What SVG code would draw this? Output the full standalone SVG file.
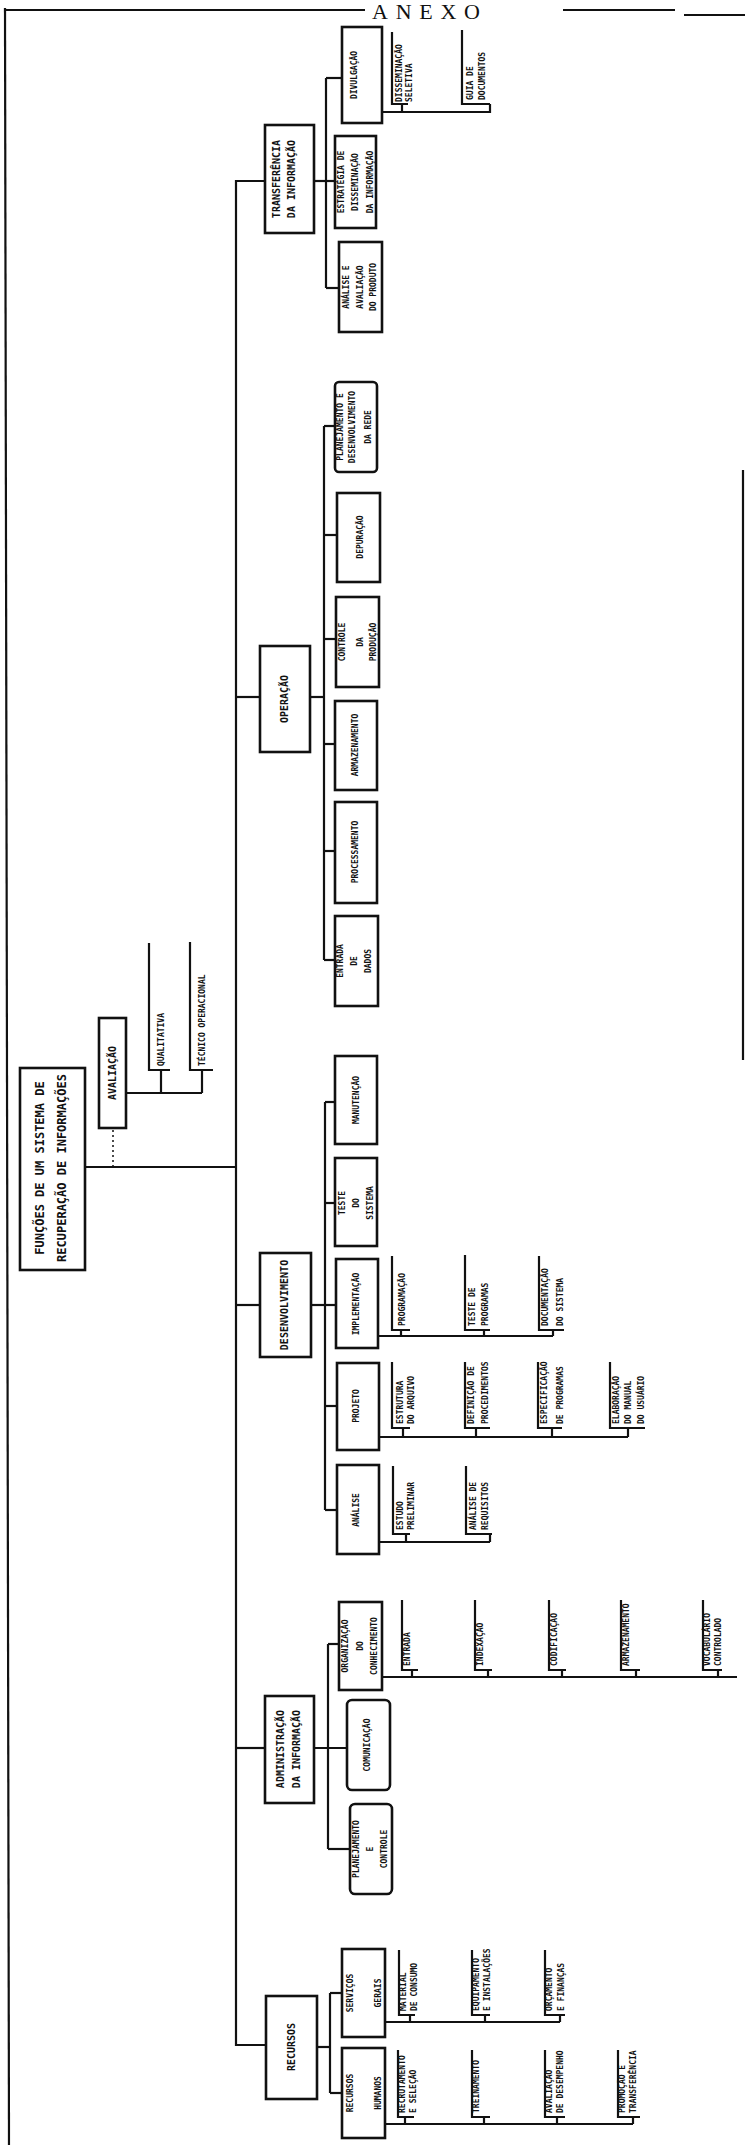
<svg xmlns="http://www.w3.org/2000/svg" width="745" height="2145" viewBox="0 0 745 2145">
<style>
.bx{fill:none;stroke:#111;stroke-width:2.6}
.ln{fill:none;stroke:#111;stroke-width:2.2}
.dl{fill:none;stroke:#111;stroke-width:1.5;stroke-dasharray:2 3}
.t{font-family:"DejaVu Sans Mono",monospace;font-weight:bold;font-size:8px;fill:#111;text-anchor:middle}
.ts{font-family:"DejaVu Sans Mono",monospace;font-weight:bold;font-size:8px;fill:#111;text-anchor:start}
.t1{font-family:"DejaVu Sans Mono",monospace;font-weight:bold;font-size:10px;fill:#111;text-anchor:middle}
.t0{font-family:"DejaVu Sans Mono",monospace;font-weight:bold;font-size:12px;fill:#111;text-anchor:middle}
.hd{font-family:"Liberation Serif",serif;font-size:22px;fill:#111}
</style>
<rect width="745" height="2145" fill="#fff"/>
<g id="frame">
<line class="ln" x1="5" y1="8" x2="9" y2="2145"/>
<line class="ln" x1="5" y1="10" x2="365" y2="10"/>
<line class="ln" x1="563" y1="10" x2="675" y2="10"/>
<line class="ln" x1="684" y1="15" x2="745" y2="15"/>
<line class="ln" x1="743" y1="470" x2="743" y2="1060"/>
<text class="hd" x="372" y="19" textLength="108" lengthAdjust="spacing">ANEXO</text>
</g>
<g id="connectors">
<polyline class="ln" points="265,181 236,181 236,2045 266,2045"/>
<line class="ln" x1="85" y1="1167" x2="236" y2="1167"/>
<line class="ln" x1="236" y1="697" x2="260" y2="697"/>
<line class="ln" x1="236" y1="1305" x2="260" y2="1305"/>
<line class="ln" x1="236" y1="1748" x2="265" y2="1748"/>
<line class="dl" x1="113" y1="1130" x2="113" y2="1166"/>
<line class="ln" x1="126" y1="1093" x2="202" y2="1093"/>
<polyline class="ln" points="149,943 149,1070 170,1070"/>
<polyline class="ln" points="190,942 190,1070 213,1070"/>
<line class="ln" x1="161" y1="1070" x2="161" y2="1093"/>
<line class="ln" x1="202" y1="1070" x2="202" y2="1093"/>
<line class="ln" x1="314" y1="181" x2="335" y2="181"/>
<line class="ln" x1="326" y1="78" x2="326" y2="288"/>
<line class="ln" x1="326" y1="78" x2="342" y2="78"/>
<line class="ln" x1="326" y1="288" x2="339" y2="288"/>
<polyline class="ln" points="392,32 392,104 408,104"/>
<polyline class="ln" points="462,30 462,104 490,104"/>
<polyline class="ln" points="382,112 490,112 490,104"/>
<line class="ln" x1="402" y1="104" x2="402" y2="112"/>
<line class="ln" x1="310" y1="697" x2="324" y2="697"/>
<line class="ln" x1="324" y1="426" x2="324" y2="960"/>
<line class="ln" x1="324" y1="426" x2="335" y2="426"/>
<line class="ln" x1="324" y1="535" x2="337" y2="535"/>
<line class="ln" x1="324" y1="639" x2="336" y2="639"/>
<line class="ln" x1="324" y1="744" x2="335" y2="744"/>
<line class="ln" x1="324" y1="851" x2="335" y2="851"/>
<line class="ln" x1="324" y1="960" x2="335" y2="960"/>
<line class="ln" x1="311" y1="1305" x2="325" y2="1305"/>
<line class="ln" x1="325" y1="1102" x2="325" y2="1510"/>
<line class="ln" x1="325" y1="1102" x2="335" y2="1102"/>
<line class="ln" x1="325" y1="1203" x2="335" y2="1203"/>
<line class="ln" x1="325" y1="1305" x2="336" y2="1305"/>
<line class="ln" x1="325" y1="1406" x2="337" y2="1406"/>
<line class="ln" x1="325" y1="1510" x2="337" y2="1510"/>
<polyline class="ln" points="392,1256 392,1330 410,1330"/>
<polyline class="ln" points="465,1255 465,1330 490,1330"/>
<polyline class="ln" points="539,1256 539,1330 564,1330"/>
<line class="ln" x1="378" y1="1336" x2="553" y2="1336"/>
<line class="ln" x1="401" y1="1330" x2="401" y2="1336"/>
<line class="ln" x1="484" y1="1330" x2="484" y2="1336"/>
<line class="ln" x1="553" y1="1330" x2="553" y2="1336"/>
<polyline class="ln" points="392,1362 392,1428 410,1428"/>
<polyline class="ln" points="465,1362 465,1428 490,1428"/>
<polyline class="ln" points="538,1362 538,1428 562,1428"/>
<polyline class="ln" points="610,1362 610,1428 645,1428"/>
<line class="ln" x1="379" y1="1437" x2="628" y2="1437"/>
<line class="ln" x1="403" y1="1428" x2="403" y2="1437"/>
<line class="ln" x1="476" y1="1428" x2="476" y2="1437"/>
<line class="ln" x1="552" y1="1428" x2="552" y2="1437"/>
<line class="ln" x1="628" y1="1428" x2="628" y2="1437"/>
<polyline class="ln" points="393,1466 393,1534 410,1534"/>
<polyline class="ln" points="466,1466 466,1534 492,1534"/>
<line class="ln" x1="379" y1="1542" x2="490" y2="1542"/>
<line class="ln" x1="406" y1="1534" x2="406" y2="1542"/>
<line class="ln" x1="490" y1="1534" x2="490" y2="1542"/>
<line class="ln" x1="314" y1="1748" x2="347" y2="1748"/>
<line class="ln" x1="328" y1="1644" x2="328" y2="1849"/>
<line class="ln" x1="328" y1="1644" x2="339" y2="1644"/>
<line class="ln" x1="328" y1="1849" x2="350" y2="1849"/>
<polyline class="ln" points="402,1600 402,1670 418,1670"/>
<polyline class="ln" points="475,1600 475,1670 492,1670"/>
<polyline class="ln" points="549,1600 549,1670 566,1670"/>
<polyline class="ln" points="621,1600 621,1670 640,1670"/>
<polyline class="ln" points="703,1600 703,1670 722,1670"/>
<line class="ln" x1="382" y1="1677" x2="737" y2="1677"/>
<line class="ln" x1="412" y1="1670" x2="412" y2="1677"/>
<line class="ln" x1="488" y1="1670" x2="488" y2="1677"/>
<line class="ln" x1="562" y1="1670" x2="562" y2="1677"/>
<line class="ln" x1="636" y1="1670" x2="636" y2="1677"/>
<line class="ln" x1="718" y1="1670" x2="718" y2="1677"/>
<line class="ln" x1="317" y1="2047" x2="330" y2="2047"/>
<line class="ln" x1="330" y1="1993" x2="330" y2="2093"/>
<line class="ln" x1="330" y1="1993" x2="342" y2="1993"/>
<line class="ln" x1="330" y1="2093" x2="342" y2="2093"/>
<polyline class="ln" points="399,1950 399,2015 415,2015"/>
<polyline class="ln" points="472,1950 472,2015 490,2015"/>
<polyline class="ln" points="545,1950 545,2015 565,2015"/>
<line class="ln" x1="385" y1="2022" x2="560" y2="2022"/>
<line class="ln" x1="410" y1="2015" x2="410" y2="2022"/>
<line class="ln" x1="485" y1="2015" x2="485" y2="2022"/>
<line class="ln" x1="560" y1="2015" x2="560" y2="2022"/>
<polyline class="ln" points="398,2050 398,2117 414,2117"/>
<polyline class="ln" points="472,2050 472,2117 490,2117"/>
<polyline class="ln" points="545,2050 545,2117 565,2117"/>
<polyline class="ln" points="618,2050 618,2117 640,2117"/>
<line class="ln" x1="385" y1="2124" x2="633" y2="2124"/>
<line class="ln" x1="405" y1="2117" x2="405" y2="2124"/>
<line class="ln" x1="484" y1="2117" x2="484" y2="2124"/>
<line class="ln" x1="557" y1="2117" x2="557" y2="2124"/>
<line class="ln" x1="633" y1="2117" x2="633" y2="2124"/>
</g>

<g id="root"><rect class="bx" x="20" y="1068" width="65" height="202"/>
<text class="t0" transform="translate(44,1168) rotate(-90)">FUNÇÕES DE UM SISTEMA DE</text>
<text class="t0" transform="translate(66,1168) rotate(-90)">RECUPERAÇÃO DE INFORMAÇÕES</text></g>

<g id="avaliacao"><rect class="bx" x="99" y="1018" width="27" height="110"/>
<text class="t1" transform="translate(116,1073) rotate(-90)">AVALIAÇÃO</text></g>
<g id="qualitativa"><text class="ts" transform="translate(164,1066) rotate(-90)">QUALITATIVA</text></g>
<g id="tecnico"><text class="ts" transform="translate(205,1066) rotate(-90)">TÉCNICO OPERACIONAL</text></g>

<g id="transferencia"><rect class="bx" x="265" y="125" width="49" height="108"/>
<text class="t1" transform="translate(280,179) rotate(-90)">TRANSFERÊNCIA</text>
<text class="t1" transform="translate(295,179) rotate(-90)">DA INFORMAÇÃO</text></g>
<g id="divulgacao"><rect class="bx" x="342" y="27" width="40" height="96"/>
<text class="t" transform="translate(357,75) rotate(-90)">DIVULGAÇÃO</text></g>
<g id="dsi"><text class="ts" transform="translate(402,102) rotate(-90)">DISSEMINAÇÃO</text>
<text class="ts" transform="translate(412,102) rotate(-90)">SELETIVA</text></g>
<g id="catalogo"><text class="ts" transform="translate(473,100) rotate(-90)">GUIA DE</text>
<text class="ts" transform="translate(485,100) rotate(-90)">DOCUMENTOS</text></g>
<g id="estrategia"><rect class="bx" x="335" y="136" width="41" height="92"/>
<text class="t" transform="translate(344,182) rotate(-90)">ESTRATÉGIA DE</text>
<text class="t" transform="translate(358,182) rotate(-90)">DISSEMINAÇÃO</text>
<text class="t" transform="translate(373,182) rotate(-90)">DA INFORMAÇÃO</text></g>
<g id="analiseproduto"><rect class="bx" x="339" y="242" width="43" height="90"/>
<text class="t" transform="translate(349,287) rotate(-90)">ANÁLISE E</text>
<text class="t" transform="translate(363,287) rotate(-90)">AVALIAÇÃO</text>
<text class="t" transform="translate(376,287) rotate(-90)">DO PRODUTO</text></g>

<g id="operacao"><rect class="bx" x="260" y="646" width="50" height="106"/>
<text class="t1" transform="translate(288,699) rotate(-90)">OPERAÇÃO</text></g>
<g id="planejrede"><rect class="bx" x="335" y="382" width="42" height="90" rx="4"/>
<text class="t" transform="translate(343,427) rotate(-90)">PLANEJAMENTO E</text>
<text class="t" transform="translate(355,427) rotate(-90)">DESENVOLVIMENTO</text>
<text class="t" transform="translate(371,427) rotate(-90)">DA REDE</text></g>
<g id="depuracao"><rect class="bx" x="337" y="493" width="43" height="89"/>
<text class="t" transform="translate(363,537) rotate(-90)">DEPURAÇÃO</text></g>
<g id="controle"><rect class="bx" x="336" y="597" width="43" height="90"/>
<text class="t" transform="translate(345,642) rotate(-90)">CONTROLE</text>
<text class="t" transform="translate(363,642) rotate(-90)">DA</text>
<text class="t" transform="translate(376,642) rotate(-90)">PRODUÇÃO</text></g>
<g id="armazenamento"><rect class="bx" x="335" y="701" width="42" height="89"/>
<text class="t" transform="translate(358,745) rotate(-90)">ARMAZENAMENTO</text></g>
<g id="processamento"><rect class="bx" x="335" y="802" width="42" height="101"/>
<text class="t" transform="translate(358,852) rotate(-90)">PROCESSAMENTO</text></g>
<g id="entrada"><rect class="bx" x="335" y="916" width="43" height="90"/>
<text class="t" transform="translate(343,961) rotate(-90)">ENTRADA</text>
<text class="t" transform="translate(357,961) rotate(-90)">DE</text>
<text class="t" transform="translate(371,961) rotate(-90)">DADOS</text></g>

<g id="desenvolvimento"><rect class="bx" x="260" y="1253" width="51" height="104"/>
<text class="t1" transform="translate(288,1305) rotate(-90)">DESENVOLVIMENTO</text></g>
<g id="manutencao"><rect class="bx" x="335" y="1056" width="42" height="88"/>
<text class="t" transform="translate(359,1100) rotate(-90)">MANUTENÇÃO</text></g>
<g id="teste"><rect class="bx" x="335" y="1158" width="42" height="88"/>
<text class="t" transform="translate(345,1203) rotate(-90)">TESTE</text>
<text class="t" transform="translate(359,1203) rotate(-90)">DO</text>
<text class="t" transform="translate(373,1203) rotate(-90)">SISTEMA</text></g>
<g id="implementacao"><rect class="bx" x="336" y="1259" width="42" height="89"/>
<text class="t" transform="translate(359,1304) rotate(-90)">IMPLEMENTAÇÃO</text></g>
<g id="programacao"><text class="ts" transform="translate(405,1326) rotate(-90)">PROGRAMAÇÃO</text></g>
<g id="testeprog"><text class="ts" transform="translate(475,1326) rotate(-90)">TESTE DE</text>
<text class="ts" transform="translate(488,1326) rotate(-90)">PROGRAMAS</text></g>
<g id="docsis"><text class="ts" transform="translate(548,1326) rotate(-90)">DOCUMENTAÇÃO</text>
<text class="ts" transform="translate(563,1326) rotate(-90)">DO SISTEMA</text></g>
<g id="projeto"><rect class="bx" x="337" y="1363" width="42" height="87"/>
<text class="t" transform="translate(359,1406) rotate(-90)">PROJETO</text></g>
<g id="estrutura"><text class="ts" transform="translate(403,1424) rotate(-90)">ESTRUTURA</text>
<text class="ts" transform="translate(414,1424) rotate(-90)">DO ARQUIVO</text></g>
<g id="definicao"><text class="ts" transform="translate(474,1424) rotate(-90)">DEFINIÇÃO DE</text>
<text class="ts" transform="translate(488,1424) rotate(-90)">PROCEDIMENTOS</text></g>
<g id="especificacao"><text class="ts" transform="translate(547,1424) rotate(-90)">ESPECIFICAÇÃO</text>
<text class="ts" transform="translate(563,1424) rotate(-90)">DE PROGRAMAS</text></g>
<g id="manual"><text class="ts" transform="translate(619,1424) rotate(-90)">ELABORAÇÃO</text>
<text class="ts" transform="translate(631,1424) rotate(-90)">DO MANUAL</text>
<text class="ts" transform="translate(644,1424) rotate(-90)">DO USUÁRIO</text></g>
<g id="analise"><rect class="bx" x="337" y="1465" width="42" height="89"/>
<text class="t" transform="translate(359,1510) rotate(-90)">ANÁLISE</text></g>
<g id="estudo"><text class="ts" transform="translate(403,1530) rotate(-90)">ESTUDO</text>
<text class="ts" transform="translate(414,1530) rotate(-90)">PRELIMINAR</text></g>
<g id="analisereq"><text class="ts" transform="translate(476,1530) rotate(-90)">ANÁLISE DE</text>
<text class="ts" transform="translate(488,1530) rotate(-90)">REQUISITOS</text></g>

<g id="administracao"><rect class="bx" x="265" y="1696" width="49" height="107"/>
<text class="t1" transform="translate(284,1749) rotate(-90)">ADMINISTRAÇÃO</text>
<text class="t1" transform="translate(300,1749) rotate(-90)">DA INFORMAÇÃO</text></g>
<g id="organizacao"><rect class="bx" x="339" y="1602" width="43" height="88"/>
<text class="t" transform="translate(348,1646) rotate(-90)">ORGANIZAÇÃO</text>
<text class="t" transform="translate(363,1646) rotate(-90)">DO</text>
<text class="t" transform="translate(377,1646) rotate(-90)">CONHECIMENTO</text></g>
<g id="l_entrada"><text class="ts" transform="translate(410,1666) rotate(-90)">ENTRADA</text></g>
<g id="l_indexacao"><text class="ts" transform="translate(483,1666) rotate(-90)">INDEXAÇÃO</text></g>
<g id="l_codificacao"><text class="ts" transform="translate(557,1666) rotate(-90)">CODIFICAÇÃO</text></g>
<g id="l_armaz"><text class="ts" transform="translate(629,1666) rotate(-90)">ARMAZENAMENTO</text></g>
<g id="l_vocab"><text class="ts" transform="translate(710,1666) rotate(-90)">VOCABULÁRIO</text>
<text class="ts" transform="translate(721,1666) rotate(-90)">CONTROLADO</text></g>
<g id="comunicacao"><rect class="bx" x="347" y="1700" width="43" height="90" rx="5"/>
<text class="t" transform="translate(370,1745) rotate(-90)">COMUNICAÇÃO</text></g>
<g id="planejcontrole"><rect class="bx" x="350" y="1804" width="42" height="90" rx="5"/>
<text class="t" transform="translate(359,1849) rotate(-90)">PLANEJAMENTO</text>
<text class="t" transform="translate(373,1849) rotate(-90)">E</text>
<text class="t" transform="translate(387,1849) rotate(-90)">CONTROLE</text></g>

<g id="recursos"><rect class="bx" x="266" y="1996" width="51" height="103"/>
<text class="t1" transform="translate(295,2047) rotate(-90)">RECURSOS</text></g>
<g id="materiais"><rect class="bx" x="342" y="1949" width="43" height="88"/>
<text class="t" transform="translate(353,1993) rotate(-90)">SERVIÇOS</text>
<text class="t" transform="translate(381,1993) rotate(-90)">GERAIS</text></g>
<g id="r1"><text class="ts" transform="translate(406,2011) rotate(-90)">MATERIAL</text>
<text class="ts" transform="translate(417,2011) rotate(-90)">DE CONSUMO</text></g>
<g id="r2"><text class="ts" transform="translate(479,2011) rotate(-90)">EQUIPAMENTO</text>
<text class="ts" transform="translate(490,2011) rotate(-90)">E INSTALAÇÕES</text></g>
<g id="r3"><text class="ts" transform="translate(552,2011) rotate(-90)">ORÇAMENTO</text>
<text class="ts" transform="translate(564,2011) rotate(-90)">E FINANÇAS</text></g>
<g id="pessoal"><rect class="bx" x="342" y="2048" width="43" height="90"/>
<text class="t" transform="translate(353,2093) rotate(-90)">RECURSOS</text>
<text class="t" transform="translate(381,2093) rotate(-90)">HUMANOS</text></g>
<g id="p1"><text class="ts" transform="translate(405,2113) rotate(-90)">RECRUTAMENTO</text>
<text class="ts" transform="translate(416,2113) rotate(-90)">E SELEÇÃO</text></g>
<g id="p2"><text class="ts" transform="translate(479,2113) rotate(-90)">TREINAMENTO</text></g>
<g id="p3"><text class="ts" transform="translate(552,2113) rotate(-90)">AVALIAÇÃO</text>
<text class="ts" transform="translate(563,2113) rotate(-90)">DE DESEMPENHO</text></g>
<g id="p4"><text class="ts" transform="translate(625,2113) rotate(-90)">PROMOÇÃO E</text>
<text class="ts" transform="translate(636,2113) rotate(-90)">TRANSFERÊNCIA</text></g>
</svg>
